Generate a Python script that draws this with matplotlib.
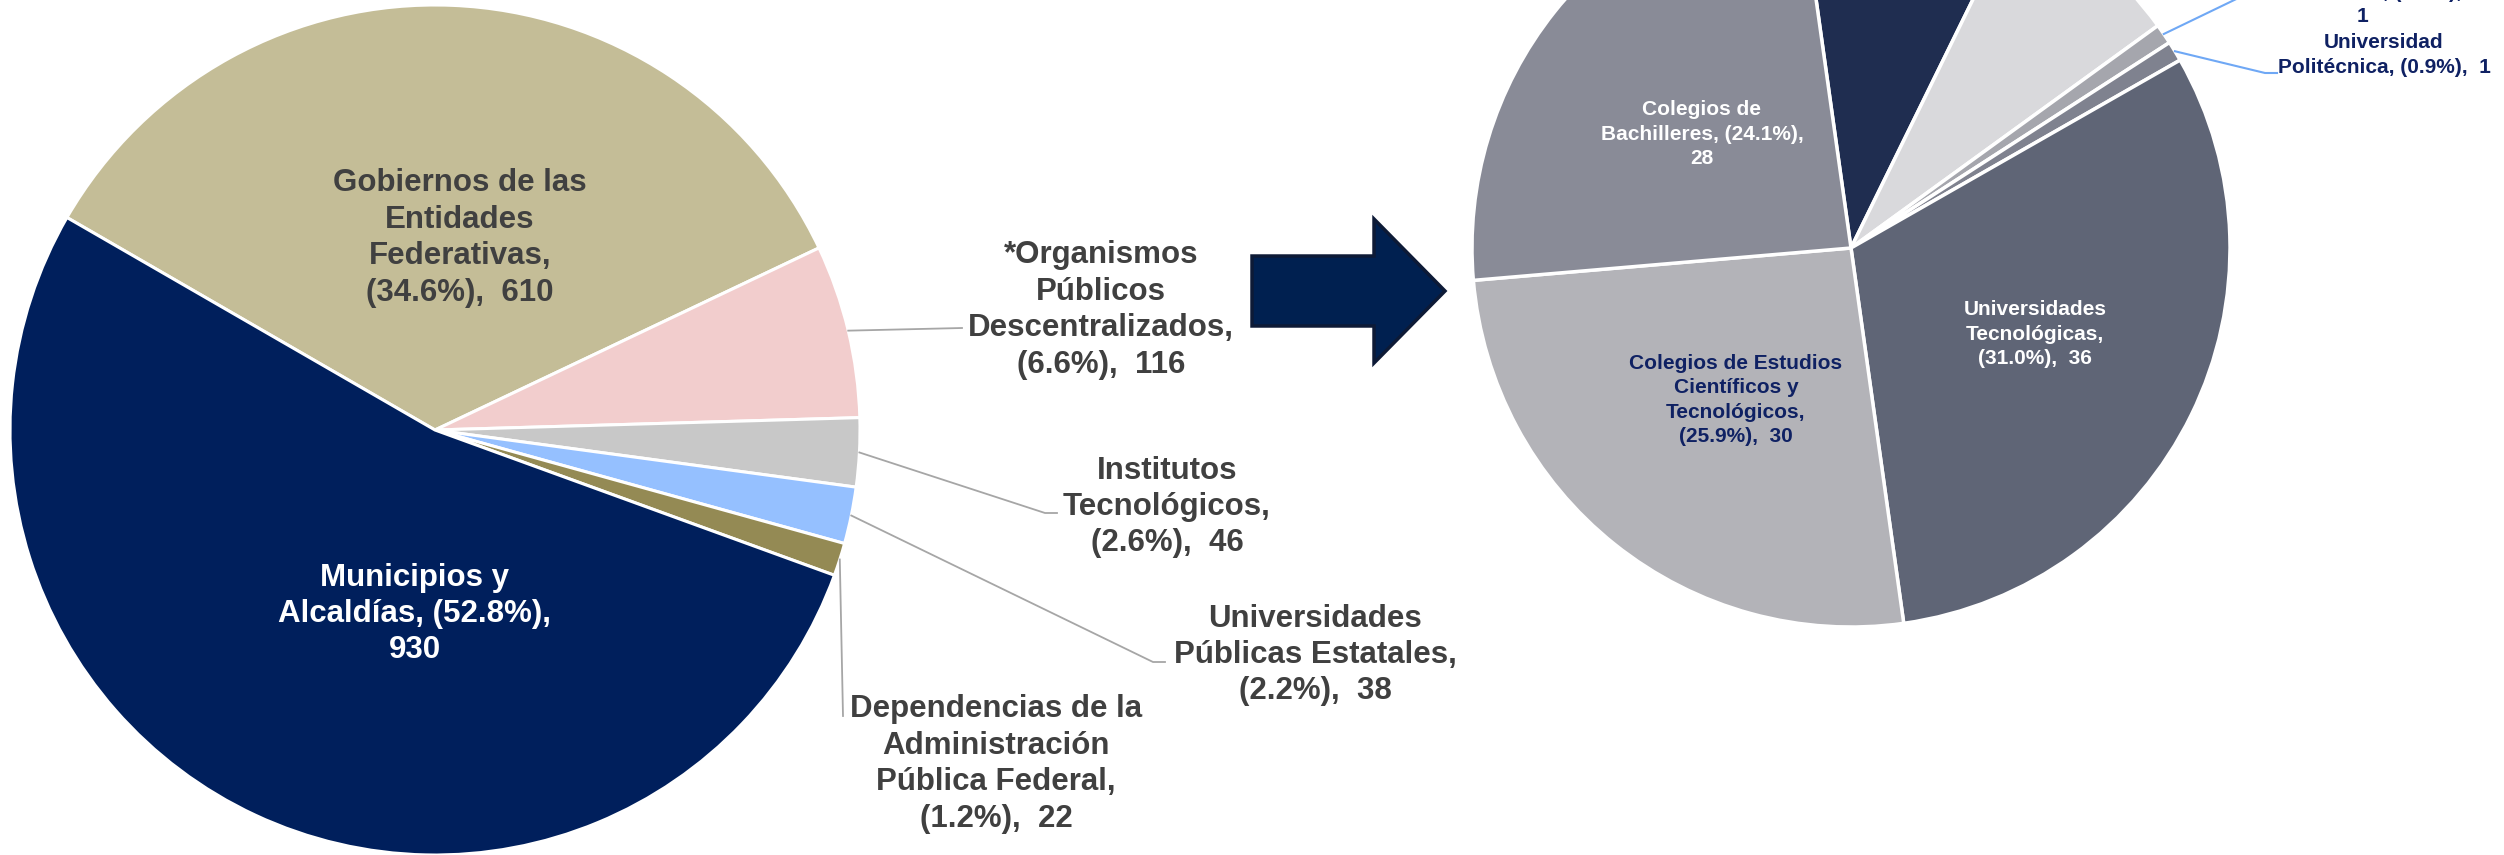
import numpy as np
import matplotlib
matplotlib.use("Agg")
import matplotlib.pyplot as plt
from matplotlib.patches import FancyArrow

plt.rcParams['font.family'] = ['Liberation Sans', 'DejaVu Sans']

W, H = 2504, 855

# pastel izquierdo: sujetos obligados por tipo
izq_valores = [610, 116, 46, 38, 22, 930]
izq_formatos = [
    "Gobiernos de las\nEntidades\nFederativas,\n({p}),  {v}",
    "*Organismos\nPúblicos\nDescentralizados,\n({p}),  {v}",
    "Institutos\nTecnológicos,\n({p}),  {v}",
    "Universidades\nPúblicas Estatales,\n({p}),  {v}",
    "Dependencias de la\nAdministración\nPública Federal,\n({p}),  {v}",
    "Municipios y\nAlcaldías, ({p}),\n{v}",
]
izq_colores = ['#C4BD97', '#F2CDCD', '#C8C8C8', '#95C0FF', '#948A54', '#001F5C']

# pastel derecho: desglose de organismos descentralizados
der_valores = [11, 9, 1, 1, 36, 30, 28]
der_formatos = [
    None,
    None,
    "Universidad\nIntercultural, ({p}),\n{v}",
    "Universidad\nPolitécnica, ({p}),  {v}",
    "Universidades\nTecnológicas,\n({p}),  {v}",
    "Colegios de Estudios\nCientíficos y\nTecnológicos,\n({p}),  {v}",
    "Colegios de\nBachilleres, ({p}),\n{v}",
]
der_colores = ['#1F2D50', '#D9D9DC', '#A5A6AD', '#7F828F', '#5F6576', '#B3B3B8', '#898B97']


def etiqueta(fmt, v, total):
    return fmt.format(p=f"{100 * v / total:.1f}%", v=v)


def pt(x, y):
    # pixel desde arriba -> coordenadas de datos
    return (x, H - y)


def borde(w, f=1.0):
    a = np.deg2rad((w.theta1 + w.theta2) / 2)
    return (w.center[0] + f * w.r * np.cos(a), w.center[1] + f * w.r * np.sin(a))


fig = plt.figure(figsize=(W / 100, H / 100), dpi=100)
ax = fig.add_axes([0, 0, 1, 1])

w_izq, _ = ax.pie(izq_valores, colors=izq_colores, startangle=150, counterclock=False,
                  center=pt(435, 430), radius=425,
                  wedgeprops=dict(edgecolor='white', linewidth=2.2))
w_der, _ = ax.pie(der_valores, colors=der_colores, startangle=98, counterclock=False,
                  center=pt(1851, 248), radius=379,
                  wedgeprops=dict(edgecolor='white', linewidth=2.5))
ax.set_xlim(0, W)
ax.set_ylim(0, H)
ax.set_aspect('auto')
ax.axis('off')

tot_izq = sum(izq_valores)
tot_der = sum(der_valores)

# etiquetas del pastel izquierdo: (x, y centro, color, codo de la guia)
izq_pos = [
    (460, 238, '#404040', None),
    (1101, 310, '#404040', [(962, 328)]),
    (1167, 507, '#404040', [(1045, 513), (1057, 513)]),
    (1315, 655, '#404040', [(1153, 662), (1165, 662)]),
    (996, 764, '#404040', [(843, 716)]),
    (415, 614, 'white', None),
]
for w, v, fmt, (x, y, c, guia) in zip(w_izq, izq_valores, izq_formatos, izq_pos):
    ax.text(*pt(x, y), etiqueta(fmt, v, tot_izq), ha='center', va='center',
            fontsize=22.5, fontweight='bold', color=c, linespacing=1.28)
    if guia:
        xs, ys = zip(borde(w), *[pt(*p) for p in guia])
        ax.plot(xs, ys, color='#A6A6A6', lw=1.3)

# etiquetas del pastel derecho
der_pos = [
    None,
    None,
    (2362, 26, '#0F2163', [(2255, -10)], 'bottom'),
    (2384, 55, '#0F2163', [(2265, 73), (2277, 73)], 'center'),
    (2035, 334, 'white', None, 'center'),
    (1736, 400, '#0F2163', None, 'center'),
    (1702, 134, 'white', None, 'center'),
]
for w, v, fmt, pos in zip(w_der, der_valores, der_formatos, der_pos):
    if fmt is None:
        continue
    x, y, c, guia, va = pos
    ax.text(*pt(x, y), etiqueta(fmt, v, tot_der), ha='center', va=va,
            fontsize=15, fontweight='bold', color=c, linespacing=1.36)
    if guia:
        xs, ys = zip(borde(w), *[pt(*p) for p in guia])
        ax.plot(xs, ys, color='#6FA8F5', lw=1.5)

# flecha entre los pasteles
ax.add_patch(FancyArrow(1252, H - 291, 193, 0, width=70, head_width=144, head_length=71,
                        length_includes_head=True, facecolor='#002050',
                        edgecolor='#0D1A36', linewidth=2.5))

fig.savefig('out.png', dpi=100)
